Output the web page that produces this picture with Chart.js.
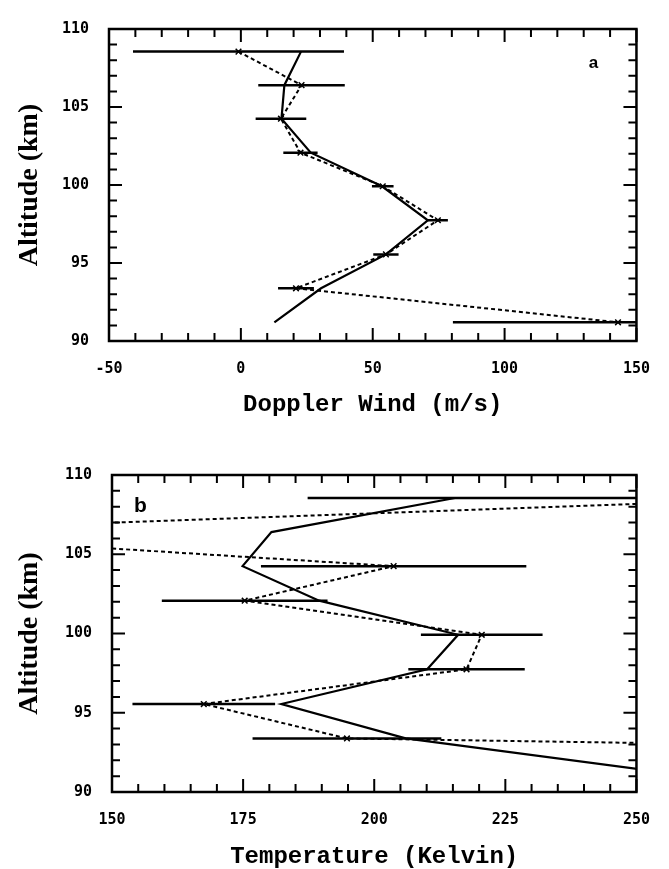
<!DOCTYPE html>
<html>
<head>
<meta charset="utf-8">
<script src="https://cdn.jsdelivr.net/npm/chart.js@4.4.0/dist/chart.umd.min.js"></script>
<style>
  body { margin: 0; background: #fff; }
  canvas { position: absolute; left: 0; }
  #windChart { top: 0; }
  #tempChart { top: 430px; }
</style>
</head>
<body>
<canvas id="windChart" width="669" height="430"></canvas>
<canvas id="tempChart" width="669" height="439"></canvas>
<script>
// altitude levels (km), shared by both panels
const altitude = [108.55, 106.4, 104.25, 102.07, 99.92, 97.74, 95.55, 93.38, 91.2];

// panel a: Doppler wind (m/s)
const windObs = [-0.9, 23, 15.2, 22.6, 53.8, 74.7, 55, 20.9, 143];
const windErr = [40, 16.4, 9.6, 6.5, 4.1, 3.8, 4.8, 6.8, 62.6];
const windFit = [22.8, 16.5, 15.4, 26.5, 53.5, 70.9, 55, 30.4, 12.7];

// panel b: temperature (K)
const tempObs = [282, 100, 203.7, 175.3, 220.5, 217.6, 167.5, 194.8, 620];
const tempErr = [94.7, 30, 25.3, 15.8, 11.6, 11.1, 13.6, 18, 60];
const tempFit = [215.4, 180.4, 174.9, 189.5, 216, 210.1, 182.3, 206, 256];

const windTicks = [-50, 0, 50, 100, 150];
const tempTicks = [150, 175, 200, 225, 250];
const altTicks = [90, 95, 100, 105, 110];

const tickFont = { family: 'DejaVu Sans Mono', weight: 'bold', size: 15 };

// frame and inward ticks on all four sides, plus the panel letter
const frameTicks = {
    id: 'frameTicks',
    afterDatasetsDraw(chart, args, opts) {
        const { ctx, chartArea: a, scales: { x, y } } = chart;
        ctx.save();
        ctx.strokeStyle = '#000';
        ctx.lineWidth = 2;
        ctx.beginPath();
        x.ticks.forEach(t => {
            const px = x.getPixelForValue(t.value);
            const len = opts.xMajor.includes(t.value) ? 13 : 8;
            ctx.moveTo(px, a.bottom); ctx.lineTo(px, a.bottom - len);
            ctx.moveTo(px, a.top); ctx.lineTo(px, a.top + len);
        });
        y.ticks.forEach(t => {
            const py = y.getPixelForValue(t.value);
            const len = altTicks.includes(t.value) ? 13 : 8;
            ctx.moveTo(a.left, py); ctx.lineTo(a.left + len, py);
            ctx.moveTo(a.right, py); ctx.lineTo(a.right - len, py);
        });
        ctx.stroke();
        ctx.lineWidth = 2.5;
        ctx.strokeRect(a.left, a.top, a.right - a.left, a.bottom - a.top);
        ctx.fillStyle = '#000';
        ctx.font = opts.letterFont;
        ctx.textAlign = 'center';
        ctx.textBaseline = 'middle';
        ctx.fillText(opts.letter, x.getPixelForValue(opts.letterX), y.getPixelForValue(opts.letterY));
        ctx.restore();
    }
};

function buildDatasets(obs, err, fit) {
    const sets = [];
    obs.forEach((v, i) => {
        sets.push({
            data: [{ x: v - err[i], y: altitude[i] }, { x: v + err[i], y: altitude[i] }],
            showLine: true, borderColor: '#000', borderWidth: 2.5, pointRadius: 0
        });
    });
    sets.push({
        data: obs.map((v, i) => ({ x: v, y: altitude[i] })),
        showLine: true, borderColor: '#000', borderWidth: 2, borderDash: [4, 3],
        pointStyle: 'crossRot', pointRadius: 4, pointBorderWidth: 1.5, pointBorderColor: '#000'
    });
    sets.push({
        data: fit.map((v, i) => ({ x: v, y: altitude[i] })),
        showLine: true, borderColor: '#000', borderWidth: 2.2, pointRadius: 0
    });
    return sets;
}

function makeChart(id, cfg) {
    return new Chart(document.getElementById(id), {
        type: 'scatter',
        data: { datasets: buildDatasets(cfg.obs, cfg.err, cfg.fit) },
        plugins: [frameTicks],
        options: {
            responsive: false,
            animation: false,
            layout: { padding: cfg.padding },
            plugins: {
                legend: { display: false },
                tooltip: { enabled: false },
                frameTicks: cfg.frame
            },
            scales: {
                x: {
                    type: 'linear', min: cfg.xMin, max: cfg.xMax,
                    grid: { display: false, drawTicks: false },
                    border: { display: false },
                    afterFit: s => { s.height = cfg.xHeight; },
                    ticks: {
                        stepSize: cfg.xStep, autoSkip: false, maxRotation: 0,
                        padding: 19, color: '#000', font: tickFont,
                        callback: v => cfg.xLabels.includes(v) ? String(v) : ''
                    },
                    title: {
                        display: true, text: cfg.xTitle, color: '#000',
                        font: { family: 'Liberation Mono', weight: 'bold', size: 24, lineHeight: 1 },
                        padding: { top: 0, bottom: cfg.xTitlePad }
                    }
                },
                y: {
                    type: 'linear', min: 90, max: 110,
                    grid: { display: false, drawTicks: false },
                    border: { display: false },
                    afterFit: s => { s.width = cfg.yWidth; },
                    ticks: {
                        stepSize: 1, autoSkip: false, padding: 20, color: '#000', font: tickFont,
                        callback: v => altTicks.includes(v) ? String(v) : ''
                    },
                    title: {
                        display: true, text: 'Altitude (km)', color: '#000',
                        font: { family: 'Liberation Serif', weight: 'bold', size: 28, lineHeight: 1 },
                        padding: { top: 16, bottom: 0 }
                    }
                }
            }
        }
    });
}

makeChart('windChart', {
    obs: windObs, err: windErr, fit: windFit,
    xMin: -50, xMax: 150, xStep: 10, xLabels: windTicks,
    xTitle: 'Doppler Wind (m/s)', xTitlePad: 13,
    padding: { top: 17, right: 32, left: 0, bottom: 0 },
    xHeight: 89, yWidth: 109,
    frame: { xMajor: windTicks, letter: 'a', letterX: 133.7, letterY: 107.8,
             letterFont: 'bold 17px "Liberation Sans"' }
});

makeChart('tempChart', {
    obs: tempObs, err: tempErr, fit: tempFit,
    xMin: 150, xMax: 250, xStep: 5, xLabels: tempTicks,
    xTitle: 'Temperature (Kelvin)', xTitlePad: 0,
    padding: { top: 45, right: 31, left: 0, bottom: 0 },
    xHeight: 77, yWidth: 112,
    frame: { xMajor: tempTicks, letter: 'b', letterX: 155.4, letterY: 108.0,
             letterFont: 'bold 21px "Liberation Sans"' }
});
</script>
</body>
</html>
